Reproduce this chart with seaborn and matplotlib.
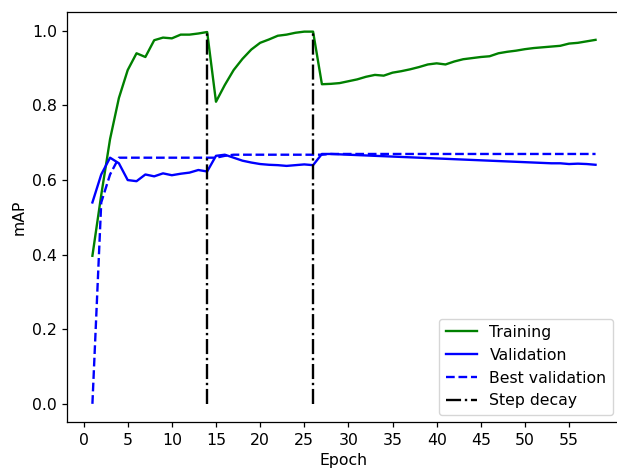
import numpy as np
import pandas as pd
import matplotlib
matplotlib.use("Agg")
import matplotlib.pyplot as plt
import seaborn as sns

# values
epochs = list(range(1, 59))
train_map = [0.397, 0.56, 0.71, 0.82, 0.895, 0.94, 0.93, 0.975, 0.982, 0.98,
             0.99, 0.99, 0.993, 0.997, 0.81, 0.855, 0.895, 0.925, 0.95, 0.968,
             0.977, 0.987, 0.99, 0.995, 0.998, 0.998, 0.857, 0.858, 0.86, 0.865,
             0.87, 0.877, 0.882, 0.88, 0.888, 0.892, 0.897, 0.903, 0.91, 0.913,
             0.91, 0.918, 0.924, 0.927, 0.93, 0.932, 0.94, 0.944, 0.947, 0.951,
             0.954, 0.956, 0.958, 0.96, 0.966, 0.968, 0.972, 0.976]
val_map = [0.54, 0.615, 0.66, 0.645, 0.60, 0.597, 0.615, 0.61, 0.618, 0.613,
           0.617, 0.62, 0.627, 0.623, 0.665, 0.668, 0.66, 0.652, 0.647, 0.643,
           0.641, 0.64, 0.638, 0.64, 0.642, 0.64, 0.67, 0.67, 0.669, 0.668,
           0.667, 0.666, 0.665, 0.664, 0.663, 0.662, 0.661, 0.66, 0.659, 0.658,
           0.657, 0.656, 0.655, 0.654, 0.653, 0.652, 0.651, 0.65, 0.649, 0.648,
           0.647, 0.646, 0.645, 0.645, 0.643, 0.644, 0.643, 0.641]
best_val = [0.0, 0.54, 0.615, 0.66, 0.66, 0.66, 0.66, 0.66, 0.66, 0.66,
            0.66, 0.66, 0.66, 0.66, 0.66, 0.665, 0.668, 0.668, 0.668, 0.668,
            0.668, 0.668, 0.668, 0.668, 0.668, 0.668, 0.668, 0.67, 0.67, 0.67,
            0.67, 0.67, 0.67, 0.67, 0.67, 0.67, 0.67, 0.67, 0.67, 0.67,
            0.67, 0.67, 0.67, 0.67, 0.67, 0.67, 0.67, 0.67, 0.67, 0.67,
            0.67, 0.67, 0.67, 0.67, 0.67, 0.67, 0.67, 0.67]
decay_epochs = [14, 26]
decay_span = [0.0, 1.0]
xtick_vals = list(range(0, 60, 5))

s = 1.13  # reference looks like a slightly upscaled default figure
plt.rcParams.update({
    "font.size": 10 * s,
    "xtick.major.size": 3.5 * s,
    "ytick.major.size": 3.5 * s,
    "axes.linewidth": 0.8 * s,
    "xtick.major.width": 0.8 * s,
    "ytick.major.width": 0.8 * s,
})
lw = 1.5 * s

df = pd.DataFrame({"Epoch": epochs, "train": train_map, "val": val_map, "best": best_val})

fig = plt.figure(figsize=(6.17, 4.71), dpi=100)
# the reference is cropped on the right, so the axes run slightly past the edge
ax = fig.add_axes([0.109, 0.103, 0.897, 0.871])

sns.lineplot(data=df, x="Epoch", y="train", color="g", lw=lw, label="Training", ax=ax)
sns.lineplot(data=df, x="Epoch", y="val", color="b", lw=lw, label="Validation", ax=ax)
sns.lineplot(data=df, x="Epoch", y="best", color="b", lw=lw, ls="--", label="Best validation", ax=ax)
for i, e in enumerate(decay_epochs):
    sd = pd.DataFrame({"Epoch": [e, e], "v": decay_span})
    sns.lineplot(data=sd, x="Epoch", y="v", color="k", lw=lw, ls="-.", estimator=None, sort=False,
                 label="Step decay" if i == 0 else None, ax=ax)

ax.set_xticks(xtick_vals)
ax.set_xlabel("Epoch")
ax.set_ylabel("mAP")
ax.legend(loc="lower right")

fig.savefig("out.png", dpi=100)
